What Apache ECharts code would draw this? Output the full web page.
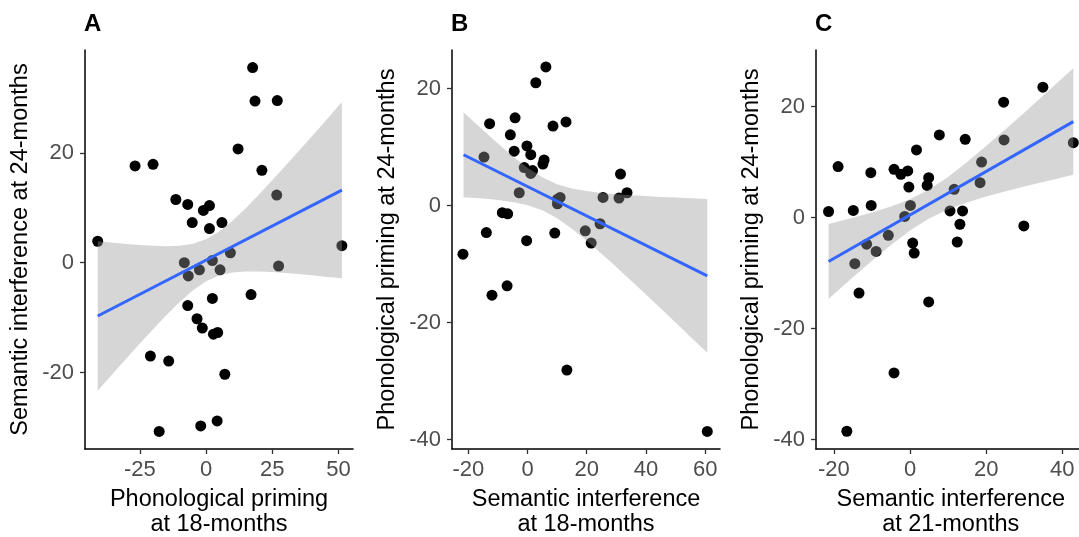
<!DOCTYPE html>
<html>
<head>
<meta charset="utf-8">
<script src="https://cdn.jsdelivr.net/npm/echarts@6/dist/echarts.min.js"></script>
<style>
html,body{margin:0;padding:0;background:#fff;}
#chart{width:1079px;height:537px;}
</style>
</head>
<body>
<div id="chart"></div>
<script>
// ---------- Panel A: phonological priming 18m (x) vs semantic interference 24m (y)
const aX = [17.6,18.5,26.9,12.1,-26.8,-20,21.1,26.7,-11.4,-6.9,1.3,-1,-5.2,6,1.3,-40.9,51.3,9.2,-8.2,2.4,-6.7,-2.5,5.3,27.4,2.4,17,-6.9,-3.4,-1.4,2.8,4.4,-21,-14.1,7.1,-17.7,-2,4.2];
const aY = [35.5,29.4,29.5,20.7,17.6,17.9,16.8,12.3,11.5,10.6,10.4,9.5,7.3,7.3,6.2,3.9,3.1,1.8,0,0.4,-2.4,-1.3,-1.3,-0.6,-6.5,-5.8,-7.8,-10.2,-11.9,-13,-12.7,-17,-17.9,-20.3,-30.7,-29.7,-28.8];
const aFitX = [-40.9, 51.3];
const aFitY = [-9.7, 13.2];
const aBandX = [-40.9,-35,-30,-25,-20,-15,-10,-5,0,5,10,15,20,25,30,35,40,45,51.3];
const aBandUp = [3.9,3.61,3.39,3.2,3.06,3.01,3.09,3.45,4.26,5.67,7.62,9.91,12.39,14.98,17.63,20.31,23.02,25.75,29.25];
const aBandLo = [-23.3,-20.09,-17.39,-14.72,-12.1,-9.57,-7.17,-5.05,-3.38,-2.31,-1.78,-1.59,-1.59,-1.7,-1.87,-2.07,-2.3,-2.55,-2.85];
const aXTicks = [-25, 0, 25, 50];
const aYTicks = [-20, 0, 20];

// ---------- Panel B: semantic interference 18m (x) vs phonological priming 24m (y)
const bX = [6.2,2.8,-12.8,-4.2,8.6,13,-5.8,-0.2,-4.5,1.1,-14.7,5.6,5.2,-1.1,1.1,1.7,31.4,-2.8,25.5,30.9,33.6,10.1,11,10.1,-8.5,-6.7,24.5,-13.9,9.2,19.5,21.5,-0.3,-21.8,-6.9,-12,13.3,60.7];
const bY = [23.7,21,14,15,13.6,14.3,12.1,10.2,9.3,8.7,8.3,7.8,7.1,6.5,5.5,6,5.4,2.2,1.4,1.3,2.2,1.1,1.4,0.3,-1.2,-1.4,-3.1,-4.6,-4.7,-4.3,-6.4,-6,-8.3,-13.7,-15.3,-28.1,-38.6];
const bFitX = [-21.6, 60.7];
const bFitY = [8.7, -12.0];
const bBandX = [-21.6,-15,-10,-5,0,5,10,15,20,25,30,35,40,45,50,55,60.7];
const bBandUp = [15.95,12.88,10.61,8.45,6.47,4.83,3.67,2.94,2.48,2.17,1.95,1.78,1.63,1.49,1.37,1.26,1.15];
const bBandLo = [1.45,1.2,0.95,0.61,0.07,-0.81,-2.17,-3.94,-6,-8.21,-10.51,-12.84,-15.21,-17.59,-19.99,-22.4,-25.15];
const bXTicks = [-20, 0, 20, 40, 60];
const bYTicks = [-40, -20, 0, 20];

// ---------- Panel C: semantic interference 21m (x) vs phonological priming 24m (y)
const cX = [34.9,24.6,7.7,14.5,24.7,42.9,1.7,18.8,-18.9,-4.2,-0.6,-2.4,-10.3,4.9,4.5,-0.3,18.4,11.6,-10.2,0.1,-21.4,-14.9,10.5,13.8,-1.4,13.1,29.9,-5.7,-11.4,0.7,12.4,-8.9,1.1,-14.5,-13.4,4.9,-4.2,-16.6];
const cY = [23.5,20.8,14.9,14.1,14,13.5,12.2,10,9.2,8.7,8.4,7.8,8.1,7.2,5.8,5.5,6.3,5.1,2.2,2.2,1.1,1.3,1.2,1.2,0.2,-1.2,-1.5,-3.2,-4.8,-4.6,-4.4,-6.1,-6.4,-8.3,-13.6,-15.2,-28,-38.5];
const cFitX = [-21.4, 42.9];
const cFitY = [-7.9, 17.3];
const cBandX = [-21.4,-15,-10,-5,0,5,10,15,20,25,30,35,42.9];
const cBandUp = [-1.15,-0.03,0.92,1.99,3.31,5.05,7.33,10,12.88,15.87,18.91,22,26.9];
const cBandLo = [-14.65,-10.75,-7.78,-4.93,-2.33,-0.15,1.49,2.74,3.78,4.71,5.59,6.42,7.7];
const cXTicks = [-20, 0, 20, 40];
const cYTicks = [-40, -20, 0, 20];

const panelLetters = ['A', 'B', 'C'];
const xTitles = ['Phonological priming\nat 18-months', 'Semantic interference\nat 18-months', 'Semantic interference\nat 21-months'];
const yTitles = ['Semantic interference at 24-months', 'Phonological priming at 24-months', 'Phonological priming at 24-months'];

// ---------- layout
const FONT = '"Liberation Sans", Arial, Helvetica, sans-serif';
const grids = [
  {left: 85, top: 50, width: 268, height: 399},
  {left: 452, top: 50, width: 268, height: 399},
  {left: 816, top: 50, width: 269.5, height: 399}
];
const xRanges = [[-45.7, 55.5], [-25.5, 65], [-24.7, 46.1]];
const yRanges = [[-33.9, 38.7], [-41.6, 26.6], [-41.7, 30.2]];

const panels = [
  {x: aX, y: aY, fx: aFitX, fy: aFitY, bx: aBandX, bu: aBandUp, bl: aBandLo, xt: aXTicks, yt: aYTicks},
  {x: bX, y: bY, fx: bFitX, fy: bFitY, bx: bBandX, bu: bBandUp, bl: bBandLo, xt: bXTicks, yt: bYTicks},
  {x: cX, y: cY, fx: cFitX, fy: cFitY, bx: cBandX, bu: cBandUp, bl: cBandLo, xt: cXTicks, yt: cYTicks}
];

const axisLineStyle = {show: true, onZero: false, lineStyle: {color: '#000', width: 1.5}};
const tickStyle = {show: true, length: 5, lineStyle: {color: '#333', width: 1.3}};
const labelBase = {color: '#4D4D4D', fontSize: 22, fontFamily: FONT};

const option = {
  animation: false,
  backgroundColor: '#fff',
  title: panelLetters.map((t, i) => ({
    text: t, left: grids[i].left - 1, top: 12, padding: 0,
    textStyle: {fontSize: 24, fontWeight: 'bold', color: '#000', fontFamily: FONT}
  })),
  grid: grids.map(g => Object.assign({outerBoundsMode: 'none', containLabel: false}, g)),
  xAxis: panels.map((p, i) => ({
    type: 'value', gridIndex: i, min: xRanges[i][0], max: xRanges[i][1],
    name: xTitles[i], nameLocation: 'middle', nameGap: 38,
    nameTextStyle: {fontSize: 23.5, color: '#000', fontFamily: FONT, lineHeight: 25},
    axisLine: axisLineStyle,
    axisTick: Object.assign({customValues: p.xt}, tickStyle),
    axisLabel: Object.assign({customValues: p.xt, margin: 10}, labelBase),
    splitLine: {show: false}
  })),
  yAxis: panels.map((p, i) => ({
    type: 'value', gridIndex: i, min: yRanges[i][0], max: yRanges[i][1],
    name: yTitles[i], nameLocation: 'middle', nameGap: 52, nameRotate: 90,
    nameTextStyle: {fontSize: 23.5, color: '#000', fontFamily: FONT},
    axisLine: axisLineStyle,
    axisTick: Object.assign({customValues: p.yt}, tickStyle),
    axisLabel: Object.assign({customValues: p.yt, margin: 11}, labelBase),
    splitLine: {show: false}
  })),
  series: []
};

panels.forEach((p, i) => {
  option.series.push({
    type: 'scatter', xAxisIndex: i, yAxisIndex: i,
    data: p.x.map((v, k) => [v, p.y[k]]),
    symbolSize: 11, itemStyle: {color: '#000', opacity: 1}, z: 2
  });
  option.series.push({
    type: 'custom', xAxisIndex: i, yAxisIndex: i, z: 3, silent: true,
    data: [[p.bx[0], p.bu[0]]],
    renderItem: function (params, api) {
      const pts = [];
      for (let k = 0; k < p.bx.length; k++) pts.push(api.coord([p.bx[k], p.bu[k]]));
      for (let k = p.bx.length - 1; k >= 0; k--) pts.push(api.coord([p.bx[k], p.bl[k]]));
      return {type: 'polygon', shape: {points: pts}, style: {fill: 'rgba(153,153,153,0.4)', stroke: null}};
    }
  });
  option.series.push({
    type: 'line', xAxisIndex: i, yAxisIndex: i, z: 4,
    data: p.fx.map((v, k) => [v, p.fy[k]]),
    showSymbol: false, symbol: 'none',
    lineStyle: {color: '#3366FF', width: 3}
  });
});

const chart = echarts.init(document.getElementById('chart'), null, {renderer: 'canvas'});
chart.setOption(option);
</script>
</body>
</html>
